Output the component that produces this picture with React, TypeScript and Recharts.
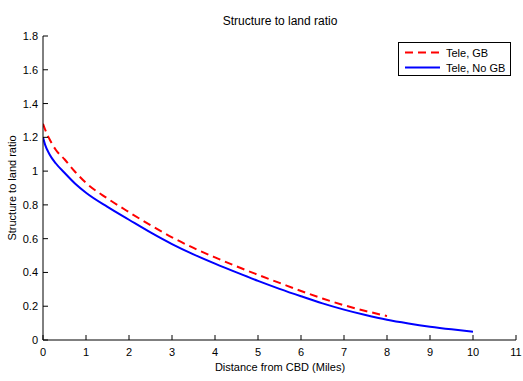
import React from "react";
import { LineChart, Line, XAxis, YAxis } from "recharts";

const xTicks = [0, 1, 2, 3, 4, 5, 6, 7, 8, 9, 10, 11];
const yTicks = [0, 0.2, 0.4, 0.6, 0.8, 1, 1.2, 1.4, 1.6, 1.8];

const gbX = [0, 0.05, 0.15, 0.3, 0.5, 0.75, 1, 1.5, 2, 2.5, 3, 3.5, 4, 4.5, 5, 5.5, 6, 6.5, 7, 7.5, 8];
const gbY = [1.28, 1.245, 1.19, 1.125, 1.07, 0.995, 0.93, 0.838, 0.757, 0.68, 0.608, 0.545, 0.489, 0.436, 0.386, 0.338, 0.29, 0.246, 0.206, 0.172, 0.142];

const noGbX = [0, 0.05, 0.15, 0.3, 0.5, 0.75, 1, 1.5, 2, 2.5, 3, 3.5, 4, 4.5, 5, 5.5, 6, 6.5, 7, 7.5, 8, 8.5, 9, 9.5, 10];
const noGbY = [1.2, 1.155, 1.1, 1.045, 0.99, 0.925, 0.872, 0.788, 0.712, 0.637, 0.568, 0.507, 0.452, 0.4, 0.35, 0.303, 0.259, 0.217, 0.18, 0.148, 0.12, 0.098, 0.079, 0.063, 0.049];

const gbData = gbX.map((x, i) => ({ x, y: gbY[i] }));
const noGbData = noGbX.map((x, i) => ({ x, y: noGbY[i] }));

const FONT = "'Liberation Sans', Arial, sans-serif";

const XTick = (props: any) => {
  const { x, y, payload } = props;
  return (
    <g>
      <line x1={x} y1={y - 5} x2={x} y2={y} stroke="#000" strokeWidth={1} />
      <text x={x} y={y + 16} textAnchor="middle" fontSize={11} fontFamily={FONT} fill="#000">
        {payload.value}
      </text>
    </g>
  );
};

const YTick = (props: any) => {
  const { x, y, payload } = props;
  return (
    <g>
      <line x1={x} y1={y} x2={x + 5} y2={y} stroke="#000" strokeWidth={1} />
      <text x={x - 5} y={y + 4} textAnchor="end" fontSize={11} fontFamily={FONT} fill="#000">
        {payload.value}
      </text>
    </g>
  );
};

const LegendBox = () => (
  <div
    style={{
      position: "absolute",
      left: 398,
      top: 42,
      width: 113,
      height: 34,
      border: "1px solid #000",
      background: "#fff",
      boxSizing: "border-box",
    }}
  >
    <svg width={111} height={32} style={{ position: "absolute", left: 0, top: 0 }}>
      <line x1={6} y1={9.5} x2={41} y2={9.5} stroke="#ff0000" strokeWidth={2} strokeDasharray="8 5" />
      <line x1={6} y1={24.5} x2={41} y2={24.5} stroke="#0000ff" strokeWidth={2} />
      <text x={47} y={13.5} fontSize={11} fontFamily={FONT} fill="#000">Tele, GB</text>
      <text x={47} y={28.5} fontSize={11} fontFamily={FONT} fill="#000">Tele, No GB</text>
    </svg>
  </div>
);

export default function App() {
  return (
    <div style={{ position: "fixed", left: 0, top: 0, width: 523, height: 381, background: "#fff" }}>
      <LineChart width={523} height={381} margin={{ top: 36, right: 7, left: 0, bottom: 0 }}>
        <text x={280} y={25} textAnchor="middle" fontSize={12} fontFamily={FONT} fill="#000">
          Structure to land ratio
        </text>
        <text x={280} y={371} textAnchor="middle" fontSize={11} fontFamily={FONT} fill="#000">
          Distance from CBD (Miles)
        </text>
        <text
          x={16}
          y={188}
          textAnchor="middle"
          fontSize={11}
          fontFamily={FONT}
          fill="#000"
          transform="rotate(-90 16 188)"
        >
          Structure to land ratio
        </text>
        <XAxis
          dataKey="x"
          type="number"
          domain={[0, 11]}
          ticks={xTicks}
          interval={0}
          height={41}
          tickLine={false}
          tickSize={0}
          tickMargin={0}
          axisLine={{ stroke: "#000" }}
          tick={<XTick />}
          allowDataOverflow
        />
        <YAxis
          dataKey="y"
          type="number"
          domain={[0, 1.8]}
          ticks={yTicks}
          interval={0}
          width={43}
          tickLine={false}
          tickSize={0}
          tickMargin={0}
          axisLine={{ stroke: "#000" }}
          tick={<YTick />}
          allowDataOverflow
        />
        <Line
          data={gbData}
          dataKey="y"
          type="monotone"
          stroke="#ff0000"
          strokeWidth={2}
          strokeDasharray="8 5"
          dot={false}
          isAnimationActive={false}
        />
        <Line
          data={noGbData}
          dataKey="y"
          type="monotone"
          stroke="#0000ff"
          strokeWidth={2}
          dot={false}
          isAnimationActive={false}
        />
      </LineChart>
      <LegendBox />
    </div>
  );
}
